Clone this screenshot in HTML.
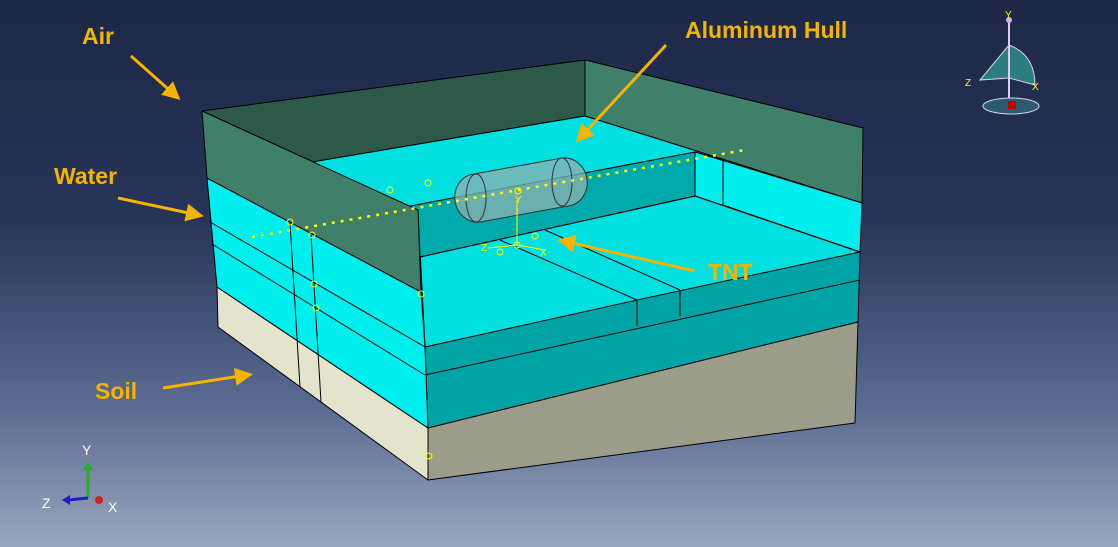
<!DOCTYPE html>
<html><head><style>
html,body{margin:0;padding:0}
body{width:1118px;height:547px;overflow:hidden;background:linear-gradient(#1d2846 0%,#27345a 40%,#5c6c92 75%,#9aa6c0 100%);}
svg{display:block}
text{font-family:"Liberation Sans",sans-serif}
</style></head><body>
<svg width="1118" height="547" viewBox="0 0 1118 547">
<defs>
<marker id="ah" markerWidth="6" markerHeight="6" refX="4" refY="3" orient="auto"><path d="M0,0 L6,3 L0,6 z" fill="#f5b400"/></marker>
</defs>
<g stroke="#000" stroke-width="1" stroke-linejoin="round">
<polygon points="202,111 585,60 585,116 312,162 418,210" fill="#2d5a48"/>
<polygon points="585,60 863,128 862,203 585,116" fill="#40806a"/>
<polygon points="312,162 585,116 862,203 860,252 425,347 418,210" fill="#00e0e0"/>
<polygon points="695,152 862,203 860,252 695,196" fill="#00eeee"/>
<polygon points="405,207 695,152 695,196 420,257 418,210" fill="#00aaaa"/>
<line x1="695" y1="152" x2="723" y2="160"/>
<line x1="723" y1="160" x2="723" y2="205"/>
<line x1="695" y1="196" x2="860" y2="252"/>
<line x1="723" y1="205" x2="860" y2="252"/>
<line x1="420" y1="257" x2="695" y2="196"/>
<line x1="500" y1="240" x2="637" y2="300"/>
<line x1="545" y1="230" x2="680" y2="290"/>
<polygon points="425,347 637,300 860,252 858,322 428,428" fill="#00a4a4"/>
<line x1="425" y1="375" x2="860" y2="280"/>
<line x1="637" y1="300" x2="637" y2="326"/>
<line x1="680" y1="290" x2="680" y2="316"/>
<polygon points="428,428 858,322 855,423 428,480" fill="#9c9c8a"/>
<polygon points="217,287 428,428 428,480 218,327" fill="#e4e4cc"/>
<polygon points="207,178 421,292 425,347 428,428 217,287" fill="#00eeee"/>
<line x1="210" y1="222" x2="425" y2="347"/>
<line x1="212" y1="244" x2="425" y2="375"/>
<polygon points="202,111 418,210 421,292 207,178" fill="#40806a"/>
<line x1="290" y1="223" x2="300" y2="387"/>
<line x1="311" y1="235" x2="321" y2="402"/>
</g>
<g stroke="#333" stroke-width="1">
<path d="M474,174 L562,158 A22,24 -10 0 1 568,206 L480,222 A22,24 -10 0 1 474,174 z" fill="#8fb0b0" fill-opacity="0.75"/>
<ellipse cx="476" cy="198" rx="10" ry="24" fill="none"/>
<ellipse cx="562" cy="182" rx="10" ry="24" fill="none"/>
</g>
<line x1="252" y1="237" x2="745" y2="150" stroke="#ffff00" stroke-width="2.5" stroke-dasharray="3,6"/>
<g stroke="#ffff00" stroke-width="1" fill="none">
<line x1="517" y1="200" x2="517" y2="245"/><line x1="517" y1="245" x2="545" y2="250"/><line x1="517" y1="245" x2="488" y2="248"/>
<circle cx="517" cy="245" r="3"/><circle cx="390" cy="190" r="3"/><circle cx="428" cy="183" r="3"/><circle cx="518" cy="191" r="3"/>
<circle cx="290" cy="222" r="3"/><circle cx="312" cy="235" r="3"/><circle cx="314" cy="284" r="3"/><circle cx="316" cy="308" r="3"/>
<circle cx="421" cy="294" r="3"/><circle cx="429" cy="456" r="3"/><circle cx="500" cy="252" r="3"/><circle cx="535" cy="236" r="3"/>
</g>
<g fill="#ffff00" font-size="10"><text x="515" y="203" font-family="Liberation Mono">Y</text><text x="540" y="256" font-family="Liberation Mono">X</text><text x="481" y="251" font-family="Liberation Mono">Z</text></g>
<g fill="#f5b400" font-weight="bold" font-size="23">
<text x="82" y="44">Air</text>
<text x="685" y="38">Aluminum Hull</text>
<text x="54" y="184">Water</text>
<text x="708" y="280">TNT</text>
<text x="95" y="399">Soil</text>
</g>
<g stroke="#f5b400" stroke-width="3" marker-end="url(#ah)">
<line x1="131" y1="56" x2="176" y2="96"/>
<line x1="666" y1="45" x2="580" y2="138"/>
<line x1="118" y1="198" x2="198" y2="215"/>
<line x1="695" y1="271" x2="563" y2="241"/>
<line x1="163" y1="388" x2="247" y2="375"/>
</g>
<g>
<path d="M1009,45 L980,80 L1009,78 z" fill="#2e7d7d" stroke="#e0d0f0"/>
<path d="M1009,45 Q1035,55 1035,85 L1009,78 z" fill="#2e7d7d" stroke="#e0d0f0"/>
<line x1="1009" y1="20" x2="1009" y2="110" stroke="#e0d0f0" stroke-width="2"/>
<ellipse cx="1011" cy="106" rx="28" ry="8" fill="#2e5a70" stroke="#e0d0f0"/>
<rect x="1008" y="101" width="8" height="8" fill="#c00000"/>
<circle cx="1009" cy="20" r="3" fill="#d0b0f0"/>
<g fill="#ffff00" font-size="10"><text x="1005" y="18">Y</text><text x="965" y="86">Z</text><text x="1032" y="90">X</text></g>
</g>
<g stroke-width="3">
<line x1="88" y1="498" x2="88" y2="468" stroke="#20b020"/>
<path d="M83,470 L88,462 L93,470 z" fill="#20b020"/>
<line x1="88" y1="498" x2="68" y2="500" stroke="#2020c0"/>
<path d="M70,495 L62,500 L70,505 z" fill="#2020c0"/>
<circle cx="99" cy="500" r="4" fill="#d02020"/>
</g>
<g fill="#fff" font-size="14"><text x="82" y="455">Y</text><text x="42" y="508">Z</text><text x="108" y="512">X</text></g>
</svg>
</body></html>
